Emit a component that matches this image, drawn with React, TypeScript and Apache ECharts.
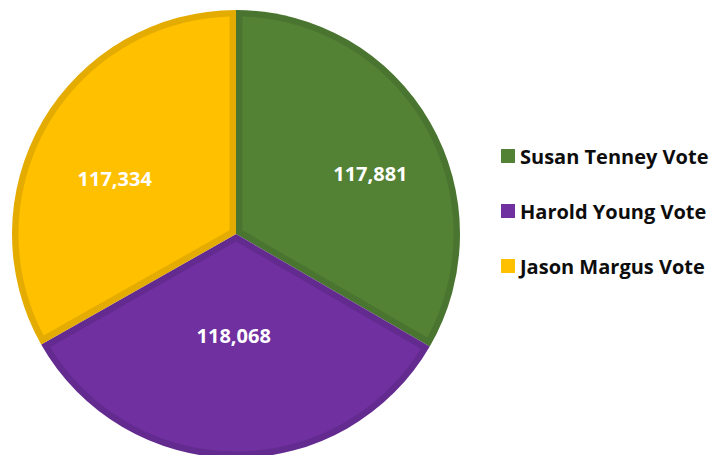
import React, { useEffect, useRef } from "react";
import * as echarts from "echarts";

const CATEGORIES = ["Susan Tenney Vote", "Harold Young Vote", "Jason Margus Vote"];
const VALUES = [117881, 118068, 117334];
const LABELS = ["117,881", "118,068", "117,334"];
const FILL_COLORS = ["#548235", "#7030a0", "#ffc000"];
const BORDER_COLORS = ["#4a7530", "#632a8f", "#e4ab00"];
const LABEL_RADIUS = [147, 103, 133];
const LABEL_ANGLE_SHIFT = [6, 1, -6];

const CX = 236;
const CY = 234;
const R = 224;
const BAND = 6.5;

export default function App() {
  const ref = useRef<HTMLDivElement>(null);
  useEffect(() => {
    if (!ref.current) return;
    const chart = echarts.init(ref.current, undefined, { renderer: "svg" });
    const total = VALUES.reduce((a, b) => a + b, 0);
    const starts: number[] = [];
    let acc = 0;
    VALUES.forEach((v) => {
      starts.push(acc);
      acc += v;
    });
    const toRad = (frac: number) => -Math.PI / 2 + frac * 2 * Math.PI;

    const renderItem = (params: any) => {
      const i = params.dataIndex;
      const a0 = toRad(starts[i] / total);
      const a1 = toRad((starts[i] + VALUES[i]) / total);
      const theta = a1 - a0;
      const mid = (a0 + a1) / 2;
      const vDist = BAND / Math.sin(theta / 2);
      const pts: number[][] = [];
      pts.push([CX + vDist * Math.cos(mid), CY + vDist * Math.sin(mid)]);
      const rr = R - BAND;
      const off = Math.asin(BAND / rr);
      const s = a0 + off;
      const e = a1 - off;
      const n = 120;
      for (let k = 0; k <= n; k++) {
        const a = s + ((e - s) * k) / n;
        pts.push([CX + rr * Math.cos(a), CY + rr * Math.sin(a)]);
      }
      const la = mid + (LABEL_ANGLE_SHIFT[i] * Math.PI) / 180;
      const lr = LABEL_RADIUS[i];
      return {
        type: "group",
        children: [
          {
            type: "polygon",
            shape: { points: pts },
            style: { fill: FILL_COLORS[i] },
          },
          {
            type: "text",
            x: CX + lr * Math.cos(la),
            y: CY + lr * Math.sin(la) - 1,
            style: {
              text: LABELS[i],
              fill: "#ffffff",
              fontSize: 20,
              fontWeight: "bold",
              fontFamily: "Open Sans",
              align: "center",
              verticalAlign: "middle",
            },
          },
        ],
      };
    };

    chart.setOption({
      animation: false,
      backgroundColor: "#ffffff",
      legend: {
        orient: "vertical",
        left: 496,
        top: 141,
        itemWidth: 14,
        itemHeight: 14,
        itemGap: 35,
        icon: "rect",
        textStyle: {
          fontSize: 20,
          fontWeight: "bold",
          fontFamily: "Open Sans",
          color: "#0d0d0d",
        },
        data: CATEGORIES.map((name, i) => ({
          name,
          itemStyle: { color: FILL_COLORS[i] },
        })),
        selectedMode: false,
      },
      series: [
        {
          type: "pie",
          center: [CX, CY],
          radius: [0, R],
          startAngle: 90,
          clockwise: true,
          silent: true,
          label: { show: false },
          labelLine: { show: false },
          itemStyle: { borderWidth: 0 },
          emphasis: { disabled: true },
          data: CATEGORIES.map((name, i) => ({
            name,
            value: VALUES[i],
            itemStyle: { color: BORDER_COLORS[i] },
          })),
        },
        {
          type: "custom",
          coordinateSystem: "none",
          silent: true,
          renderItem,
          data: VALUES.map((v, i) => [i, v]),
          z: 3,
        },
      ],
    });
    return () => chart.dispose();
  }, []);
  return (
    <div
      ref={ref}
      style={{ position: "fixed", left: 0, top: 0, width: 713, height: 455 }}
    />
  );
}
